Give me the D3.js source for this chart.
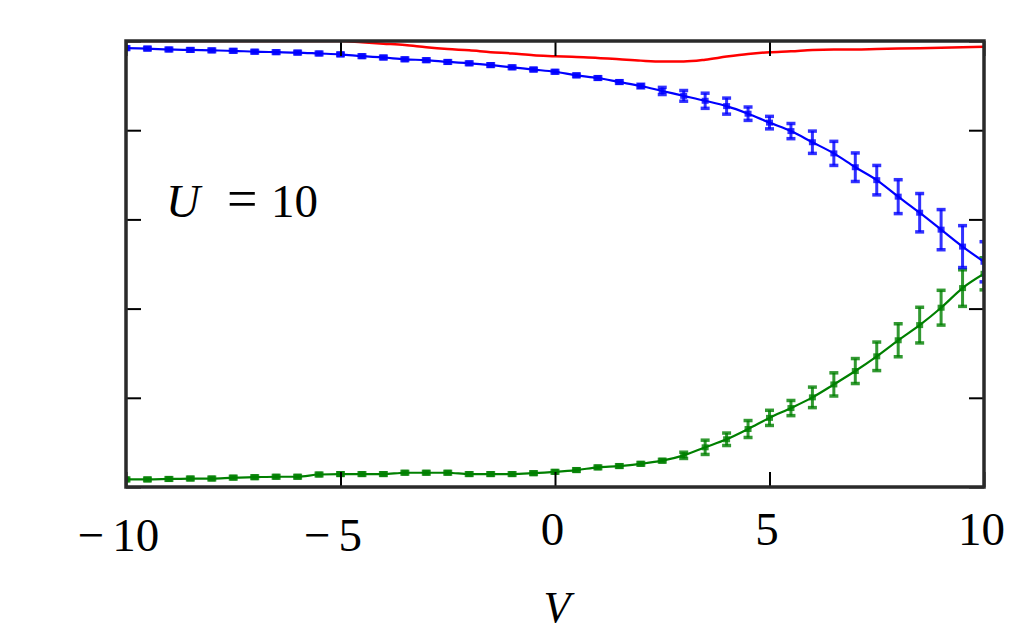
<!DOCTYPE html>
<html>
<head>
<meta charset="utf-8">
<script src="https://cdn.jsdelivr.net/npm/d3@7"></script>
<style>
  body { margin: 0; background: #fff; }
  text { font-family: "Liberation Serif", "DejaVu Serif", serif; fill: #000; }
</style>
</head>
<body>
<div id="chart"></div>
<script>
// V values of the sampled points
var vValues = [-10, -9.5, -9, -8.5, -8, -7.5, -7, -6.5, -6, -5.5, -5,
  -4.5, -4, -3.5, -3, -2.5, -2, -1.5, -1, -0.5, 0,
  0.5, 1, 1.5, 2, 2.5, 3, 3.5, 4, 4.5, 5,
  5.5, 6, 6.5, 7, 7.5, 8, 8.5, 9, 9.5, 10];

// red curve (no markers)
var redValues = [1.0, 1.0, 1.0, 1.0, 1.0, 1.0, 1.0, 1.0, 1.0, 1.0, 1.0,
  0.997, 0.994, 0.991, 0.986, 0.982, 0.979, 0.975, 0.972, 0.968, 0.966,
  0.964, 0.962, 0.959, 0.956, 0.954, 0.954, 0.958, 0.965, 0.971, 0.975,
  0.977, 0.980, 0.981, 0.981, 0.982, 0.983, 0.984, 0.985, 0.986, 0.987];

// blue series + error bars
var blueValues = [0.984, 0.983, 0.981, 0.980, 0.979, 0.978, 0.976, 0.975, 0.974, 0.972, 0.970,
  0.966, 0.963, 0.959, 0.957, 0.953, 0.950, 0.946, 0.941, 0.936, 0.931,
  0.923, 0.917, 0.908, 0.899, 0.888, 0.877, 0.866, 0.854, 0.837, 0.817,
  0.798, 0.773, 0.748, 0.717, 0.688, 0.651, 0.615, 0.577, 0.539, 0.505];
var blueErrors = [0.003, 0.003, 0.003, 0.003, 0.003, 0.003, 0.003, 0.003, 0.003, 0.003, 0.003,
  0.003, 0.003, 0.003, 0.003, 0.003, 0.003, 0.003, 0.003, 0.003, 0.003,
  0.003, 0.003, 0.003, 0.004, 0.008, 0.012, 0.017, 0.018, 0.015, 0.014,
  0.017, 0.025, 0.027, 0.032, 0.033, 0.038, 0.043, 0.045, 0.047, 0.045];

// green series + error bars
var greenValues = [0.017, 0.017, 0.018, 0.019, 0.019, 0.021, 0.022, 0.023, 0.023, 0.028, 0.029,
  0.029, 0.029, 0.032, 0.032, 0.032, 0.029, 0.029, 0.029, 0.031, 0.034,
  0.038, 0.044, 0.047, 0.052, 0.059, 0.071, 0.089, 0.107, 0.130, 0.155,
  0.177, 0.201, 0.230, 0.260, 0.293, 0.329, 0.363, 0.402, 0.446, 0.478];
var greenErrors = [0.003, 0.003, 0.003, 0.003, 0.003, 0.003, 0.003, 0.003, 0.003, 0.003, 0.003,
  0.003, 0.003, 0.003, 0.003, 0.003, 0.003, 0.003, 0.003, 0.003, 0.003,
  0.003, 0.003, 0.003, 0.003, 0.003, 0.007, 0.016, 0.014, 0.019, 0.017,
  0.017, 0.023, 0.026, 0.028, 0.032, 0.037, 0.040, 0.039, 0.041, 0.036];

var xTicks = [-10, -5, 0, 5, 10];
var yTicks = [0, 0.2, 0.4, 0.6, 0.8, 1];
var annotation = "=10";

// set the dimensions and margins of the graph
var margin = {top: 41, right: 40, bottom: 145, left: 126},
  width = 1024 - margin.left - margin.right,
  height = 632 - margin.top - margin.bottom;

var svg = d3.select("#chart")
  .append("svg")
    .attr("width", 1024)
    .attr("height", 632)
  .append("g")
    .attr("transform", "translate(" + margin.left + "," + margin.top + ")");

var x = d3.scaleLinear().domain([-10, 10]).range([0, width]);
var y = d3.scaleLinear().domain([0, 1]).range([height, 0]);

svg.append("clipPath").attr("id", "clip")
  .append("rect").attr("width", width).attr("height", height);

var plot = svg.append("g").attr("clip-path", "url(#clip)");

var line = d3.line()
  .x(function(d) { return x(d.v); })
  .y(function(d) { return y(d.val); })
  .curve(d3.curveMonotoneX);

function makeSeries(vals, errs) {
  return vValues.map(function(v, i) {
    return {v: v, val: vals[i], err: errs ? errs[i] : 0};
  });
}

function drawErrSeries(data, color) {
  var g = plot.append("g");
  // vertical bars
  g.selectAll(".bar").data(data).enter().append("line")
    .attr("x1", function(d) { return x(d.v); })
    .attr("x2", function(d) { return x(d.v); })
    .attr("y1", function(d) { return y(d.val - d.err); })
    .attr("y2", function(d) { return y(d.val + d.err); })
    .style("stroke", color).style("stroke-width", 3).style("opacity", 0.8);
  // caps
  [-1, 1].forEach(function(s) {
    g.selectAll(".cap").data(data).enter().append("line")
      .attr("x1", function(d) { return x(d.v) - 4.5; })
      .attr("x2", function(d) { return x(d.v) + 4.5; })
      .attr("y1", function(d) { return y(d.val + s * d.err); })
      .attr("y2", function(d) { return y(d.val + s * d.err); })
      .style("stroke", color).style("stroke-width", 3.5).style("opacity", 0.8);
  });
  g.append("path").datum(data)
    .attr("d", line)
    .style("fill", "none").style("stroke", color).style("stroke-width", 2.2);
  // square markers
  g.selectAll(".mk").data(data).enter().append("rect")
    .attr("x", function(d) { return x(d.v) - 3.5; })
    .attr("y", function(d) { return y(d.val) - 3; })
    .attr("width", 7).attr("height", 6)
    .style("fill", color).style("opacity", 0.8);
}

drawErrSeries(makeSeries(greenValues, greenErrors), "#008000");
drawErrSeries(makeSeries(blueValues, blueErrors), "#0000ff");

plot.append("path").datum(makeSeries(redValues))
  .attr("d", line)
  .style("fill", "none").style("stroke", "#ff0000").style("stroke-width", 2.5);

// axes with inward ticks
var xAxisB = svg.append("g")
  .attr("transform", "translate(0," + height + ")")
  .call(d3.axisBottom(x).tickValues(xTicks).tickSizeInner(-15).tickSizeOuter(0));
xAxisB.selectAll("text")
  .attr("y", function(d) { return d < 0 ? 64 : 58; })
  .attr("dy", 0)
  .attr("dx", function(d) { return d < 0 ? -8 : -3; })
  .style("font-size", "47px")
  .style("font-family", "'Liberation Serif', serif")
  .text(null)
  .each(function(d) {
    var t = d3.select(this);
    if (d < 0) {
      t.append("tspan").text("\u2212");
      t.append("tspan").attr("dx", 8).text(Math.abs(d));
    } else {
      t.append("tspan").text(d);
    }
  });

svg.append("g")
  .call(d3.axisTop(x).tickValues(xTicks).tickSizeInner(-15).tickSizeOuter(0).tickFormat(""));
svg.append("g")
  .call(d3.axisLeft(y).tickValues(yTicks).tickSizeInner(-15).tickSizeOuter(0).tickFormat(""));
svg.append("g")
  .attr("transform", "translate(" + width + ",0)")
  .call(d3.axisRight(y).tickValues(yTicks).tickSizeInner(-15).tickSizeOuter(0).tickFormat(""));

svg.selectAll(".domain").remove();
svg.selectAll(".tick line").style("stroke", "#000").style("stroke-width", 2);

// frame
svg.append("rect")
  .attr("width", width).attr("height", height)
  .style("fill", "none").style("stroke", "#2a2a2a").style("stroke-width", 3.5);

// x label
svg.append("text")
  .attr("x", x(0) + 2)
  .attr("y", height + 135)
  .attr("text-anchor", "middle")
  .style("font-size", "44px").style("font-style", "italic")
  .text("V");

// annotation U = 10
var ann = svg.append("text")
  .attr("y", 176)
  .style("font-size", "47px");
ann.append("tspan").attr("x", 40).style("font-style", "italic").text("U");
ann.append("tspan").attr("x", 101).style("font-size", "54px").text(annotation.slice(0, 1));
ann.append("tspan").attr("x", 145).text(annotation.slice(1));
</script>
</body>
</html>
